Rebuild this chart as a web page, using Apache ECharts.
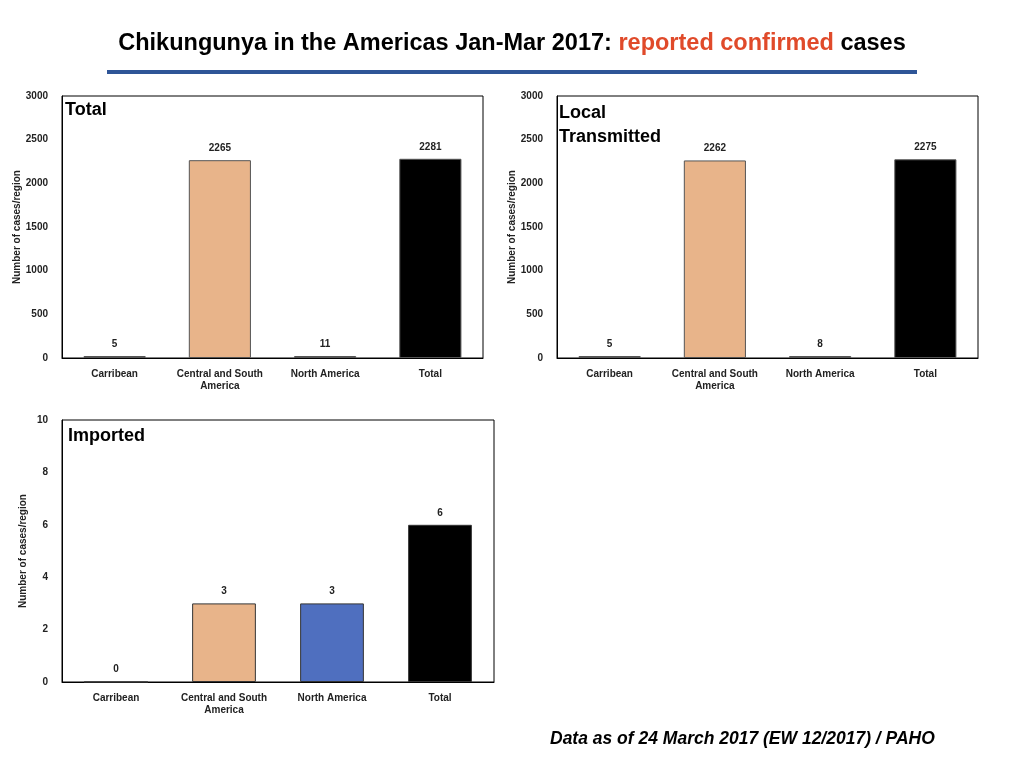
<!DOCTYPE html>
<html><head><meta charset="utf-8">
<script src="https://cdn.jsdelivr.net/npm/echarts@6/dist/echarts.min.js"></script>
<style>html,body{margin:0;background:#fff}#c{width:1024px;height:768px}</style>
</head><body><div id="c"></div>
<script>
const categories = ['Carribean', 'Central and South\nAmerica', 'North America', 'Total'];
const totalCases = [5, 2265, 11, 2281];
const localCases = [5, 2262, 8, 2275];
const importedCases = [0, 3, 3, 6];
const panelTitles = ['Total', 'Local\nTransmitted', 'Imported'];

const chart = echarts.init(document.getElementById('c'));
const grids = [
  {left: 62, top: 96, width: 421, height: 262},
  {left: 557, top: 96, width: 421, height: 262},
  {left: 62, top: 420, width: 432, height: 262}
];
const colorsTop = ['#7F7F7F', '#E8B48A', '#7F7F7F', '#000000'];
const colorsBot = ['#4F6FBF', '#E8B48A', '#4F6FBF', '#000000'];
const datas = [totalCases, localCases, importedCases];
const axFont = {fontFamily: 'Liberation Sans, Arial', fontWeight: 'bold', fontSize: 10, color: '#222'};

const option = {
  animation: false,
  textStyle: {fontFamily: 'Liberation Sans, Arial'},
  grid: grids.map(g => Object.assign({show: true, borderColor: '#000', borderWidth: 1, containLabel: false}, g)),
  xAxis: grids.map((g, i) => ({
    type: 'category', gridIndex: i, data: categories,
    axisTick: {show: false}, axisLine: {lineStyle: {color: '#000'}},
    axisLabel: Object.assign({interval: 0, margin: 10, lineHeight: 12}, axFont)
  })),
  yAxis: grids.map((g, i) => ({
    type: 'value', gridIndex: i, min: 0, max: i < 2 ? 3000 : 10, interval: i < 2 ? 500 : 2,
    splitLine: {show: false}, axisTick: {show: false},
    axisLine: {show: true, lineStyle: {color: '#000'}},
    axisLabel: Object.assign({margin: 14, formatter: v => String(v)}, axFont),
    name: 'Number of cases/region', nameLocation: 'middle', nameGap: 34,
    nameTextStyle: Object.assign({}, axFont, {fontSize: 10})
  })),
  series: datas.map((d, i) => ({
    type: 'bar', xAxisIndex: i, yAxisIndex: i, barWidth: '59%',
    data: d.map((v, j) => ({value: v, itemStyle: {color: (i < 2 ? colorsTop : colorsBot)[j]}})),
    barMinHeight: i < 2 ? 2 : 0,
    itemStyle: {borderColor: i < 2 ? '#555' : '#333', borderWidth: 1},
    label: {show: true, position: 'top', distance: 7, fontWeight: 'bold', fontSize: 10, color: '#222'}
  })),
  graphic: [
    {type: 'text', left: 'center', top: 32, style: {rich: {a: {fontSize: 23.5, fontWeight: 'bold', fill: '#000', fontFamily: 'Liberation Sans, Arial'}, r: {fontSize: 23.5, fontWeight: 'bold', fill: '#E04A2A', fontFamily: 'Liberation Sans, Arial'}}, text: '{a|Chikungunya in the Americas Jan-Mar 2017: }{r|reported confirmed}{a| cases}'}},
    {type: 'rect', shape: {x: 107, y: 70, width: 810, height: 4}, style: {fill: '#2E5597'}},
    {type: 'text', left: 65, top: 101, style: {text: panelTitles[0], fontSize: 18, fontWeight: 'bold', fill: '#000', fontFamily: 'Liberation Sans, Arial'}},
    {type: 'text', left: 559, top: 101, style: {text: panelTitles[1], fontSize: 18, fontWeight: 'bold', fill: '#000', lineHeight: 24, fontFamily: 'Liberation Sans, Arial'}},
    {type: 'text', left: 68, top: 427, style: {text: panelTitles[2], fontSize: 18, fontWeight: 'bold', fill: '#000', fontFamily: 'Liberation Sans, Arial'}},
    {type: 'text', left: 550, top: 730, style: {text: 'Data as of 24 March 2017 (EW 12/2017) / PAHO', fontSize: 17.5, fontWeight: 'bold', fontStyle: 'italic', fill: '#000', fontFamily: 'Liberation Sans, Arial'}}
  ]
};
chart.setOption(option);
</script></body></html>
